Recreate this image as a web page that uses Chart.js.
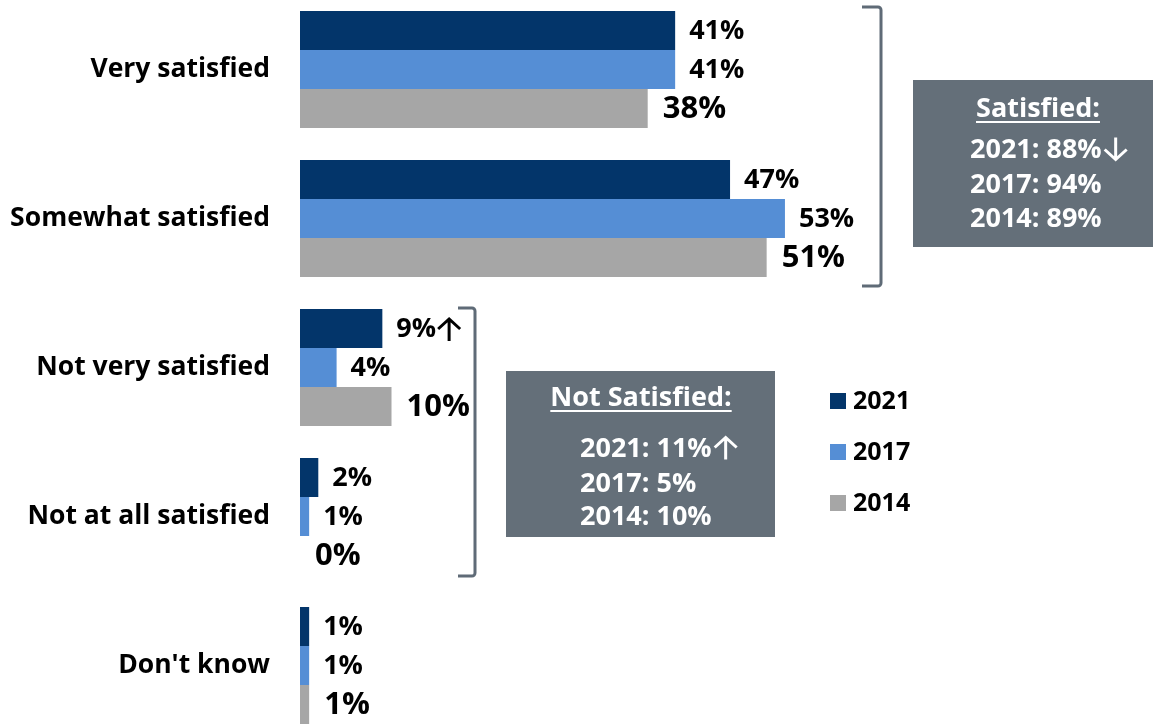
<!DOCTYPE html>
<html>
<head>
<meta charset="utf-8">
<script src="https://cdn.jsdelivr.net/npm/chart.js@4.4.1/dist/chart.umd.min.js"></script>
<style>
  html, body { margin: 0; padding: 0; background: #fff; overflow: hidden; }
  #wrap { position: absolute; left: 0; top: -5px; width: 1215px; height: 745px; }
</style>
</head>
<body>
<div id="wrap"><canvas id="chart"></canvas></div>
<script>
/* ===== DATA ===== */
const categories = ['Very satisfied', 'Somewhat satisfied', 'Not very satisfied', 'Not at all satisfied', "Don't know"];
const years = ['2021', '2017', '2014'];
const values2021 = [41, 47, 9, 2, 1];
const values2017 = [41, 53, 4, 1, 1];
const values2014 = [38, 51, 10, 0, 1];
const trend2021 = ['', '', 'up', '', ''];

const satisfiedTitle = 'Satisfied:';
const satisfiedLines = ['2021: 88%', '2017: 94%', '2014: 89%'];
const satisfiedTrend = ['down', '', ''];
const notSatisfiedTitle = 'Not Satisfied:';
const notSatisfiedLines = ['2021: 11%', '2017: 5%', '2014: 10%'];
const notSatisfiedTrend = ['up', '', ''];

const COLORS = { navy: '#03356a', blue: '#558ed5', grey: '#a6a6a6', slate: '#646f79', bracket: '#5f6b77' };
const FONT = "'Open Sans', sans-serif";
const SHIFT = 5; // canvas starts 5px above the page top

// thin open-headed arrow, x = left edge, yMid = vertical centre
function drawArrow(ctx, dir, x, yMid, color) {
    if (!dir) return;
    const w = 24, h = 23, head = 11;
    const cx = x + w / 2;
    const tip = dir === 'up' ? yMid - h / 2 : yMid + h / 2;
    const tail = dir === 'up' ? yMid + h / 2 : yMid - h / 2;
    const s = dir === 'up' ? 1 : -1;
    ctx.save();
    ctx.strokeStyle = color;
    ctx.lineWidth = 3;
    ctx.lineCap = 'butt';
    ctx.lineJoin = 'miter';
    ctx.beginPath();
    ctx.moveTo(cx, tail);
    ctx.lineTo(cx, tip + s * 1.5);
    ctx.moveTo(x + 1, tip + s * head);
    ctx.lineTo(cx, tip + s * 1);
    ctx.lineTo(x + w - 1, tip + s * head);
    ctx.stroke();
    ctx.restore();
}

/* bar value labels */
const valueLabels = {
    id: 'valueLabels',
    afterDatasetsDraw(chart) {
        const ctx = chart.ctx;
        ctx.save();
        ctx.fillStyle = '#000';
        ctx.textAlign = 'left';
        ctx.textBaseline = 'middle';
        chart.data.datasets.forEach((ds, di) => {
            const meta = chart.getDatasetMeta(di);
            ctx.font = 'bold ' + ds.labelSize + 'px ' + FONT;
            meta.data.forEach((bar, i) => {
                const txt = ds.data[i] + '%';
                const x = bar.x + ds.labelGap;
                ctx.fillText(txt, x, bar.y + 1);
                if (ds.trend) drawArrow(ctx, ds.trend[i], x + ctx.measureText(txt).width + 1, bar.y + 1, '#000');
            });
        });
        ctx.restore();
    }
};

/* brackets, summary boxes, legend */
function bracket(ctx, x0, x1, y0, y1) {
    ctx.save();
    ctx.strokeStyle = COLORS.bracket;
    ctx.lineWidth = 3;
    ctx.lineJoin = 'round';
    ctx.beginPath();
    ctx.moveTo(x0, y0);
    ctx.arcTo(x1, y0, x1, y0 + 4, 3);
    ctx.arcTo(x1, y1, x0, y1, 3);
    ctx.lineTo(x0, y1);
    ctx.stroke();
    ctx.restore();
}

function summaryBox(ctx, box) {
    ctx.save();
    ctx.fillStyle = COLORS.slate;
    ctx.fillRect(box.x, box.y, box.w, box.h);
    ctx.fillStyle = '#fff';
    ctx.strokeStyle = '#fff';
    ctx.font = 'bold 27px ' + FONT;
    ctx.textBaseline = 'alphabetic';
    ctx.textAlign = 'center';
    ctx.fillText(box.title, box.titleX, box.titleY);
    const tw = ctx.measureText(box.title).width;
    ctx.lineWidth = 2;
    ctx.beginPath();
    ctx.moveTo(box.titleX - tw / 2, box.titleY + 5);
    ctx.lineTo(box.titleX + tw / 2, box.titleY + 5);
    ctx.stroke();
    ctx.textAlign = 'left';
    box.lines.forEach((line, i) => {
        const y = box.lineY[i];
        ctx.fillText(line, box.lineX, y);
        const w = ctx.measureText(line).width;
        drawArrow(ctx, box.trend[i], box.lineX + w + 2, y - 9, '#fff');
    });
    ctx.restore();
}

const decorations = {
    id: 'decorations',
    afterDraw(chart) {
        const ctx = chart.ctx;
        ctx.save();
        ctx.translate(0, SHIFT);
        bracket(ctx, 862, 881, 7, 286);
        bracket(ctx, 458, 475, 308, 576);
        summaryBox(ctx, { x: 913, y: 80, w: 240, h: 167, title: satisfiedTitle, titleX: 1038, titleY: 117,
            lines: satisfiedLines, trend: satisfiedTrend, lineX: 970, lineY: [158, 193, 227] });
        summaryBox(ctx, { x: 506, y: 371, w: 269, h: 166, title: notSatisfiedTitle, titleX: 641, titleY: 406,
            lines: notSatisfiedLines, trend: notSatisfiedTrend, lineX: 580, lineY: [457, 492, 525] });
        // legend
        ctx.font = 'bold 25px ' + FONT;
        ctx.textBaseline = 'middle';
        ctx.textAlign = 'left';
        chart.data.datasets.forEach((ds, i) => {
            const yc = 401 + i * 51;
            ctx.fillStyle = ds.backgroundColor;
            ctx.fillRect(830, yc - 8, 16, 16);
            ctx.fillStyle = '#000';
            ctx.fillText(ds.label, 853, yc + 1);
        });
        ctx.restore();
    }
};

new Chart(document.getElementById('chart'), {
    type: 'bar',
    data: {
        labels: categories,
        datasets: [
            { label: years[0], data: values2021, backgroundColor: COLORS.navy, labelSize: 27, labelGap: 14, trend: trend2021 },
            { label: years[1], data: values2017, backgroundColor: COLORS.blue, labelSize: 27, labelGap: 14 },
            { label: years[2], data: values2014, backgroundColor: COLORS.grey, labelSize: 31, labelGap: 15 }
        ]
    },
    options: {
        indexAxis: 'y',
        responsive: true, maintainAspectRatio: false, animation: false,
        layout: { padding: 0 },
        datasets: { bar: { categoryPercentage: 0.785, barPercentage: 1, borderWidth: 0 } },
        plugins: { legend: { display: false }, tooltip: { enabled: false } },
        scales: {
            x: { display: false, min: 0, max: 100 },
            y: {
                grid: { display: false, drawTicks: false },
                border: { display: false },
                ticks: { color: '#000', padding: 30, font: { family: FONT, size: 26.5, weight: 'bold' } },
                afterFit(scale) { scale.width = 300; scale.paddingTop = 0; scale.paddingBottom = 0; }
            }
        }
    },
    plugins: [valueLabels, decorations]
});
</script>
</body>
</html>
